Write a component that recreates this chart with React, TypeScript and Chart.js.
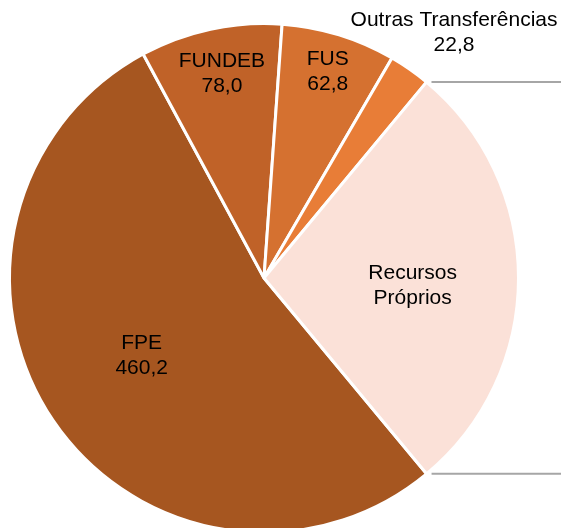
import React, { useEffect, useRef } from "react";
import { Chart, registerables } from "chart.js";

Chart.register(...registerables);

const categories = ["FPE", "FUNDEB", "FUS", "Outras Transferências", "Recursos Próprios"];
const values = [460.2, 78.0, 62.8, 22.8, 242.0];
const labelLines = [["FPE"], ["FUNDEB"], ["FUS"], ["Outras Transferências"], ["Recursos", "Próprios"]];
const showValue = [true, true, true, true, false];
const colors = ["#A65620", "#C06228", "#D57130", "#E87D37", "#FBE1D8"];

const labelPlacement = [
  { r: 0.57, da: 1.5 },
  { r: 0.82, da: 0.5 },
  { r: 0.85, da: 0 },
  { r: 1.22, da: 2.8 },
  { r: 0.585, da: 3 },
];

const fmt = (v: number) => v.toFixed(1).replace(".", ",");

const labelsPlugin = {
  id: "customLabels",
  afterDatasetsDraw(chart: any) {
    const ctx = chart.ctx;
    const meta = chart.getDatasetMeta(0);
    ctx.save();
    const rp = meta.data[4];
    if (rp) {
      const p = rp.getProps(["x", "y", "startAngle", "endAngle", "outerRadius"], true);
      ctx.strokeStyle = "#A6A6A6";
      ctx.lineWidth = 2;
      [p.startAngle, p.endAngle].forEach((a: number) => {
        const px = p.x + Math.cos(a) * p.outerRadius;
        const py = p.y + Math.sin(a) * p.outerRadius;
        ctx.beginPath();
        ctx.moveTo(px + 5, py);
        ctx.lineTo(chart.width, py);
        ctx.stroke();
      });
    }
    ctx.fillStyle = "#000";
    ctx.font = "21px 'Liberation Sans', Arial, sans-serif";
    ctx.textAlign = "center";
    ctx.textBaseline = "middle";
    meta.data.forEach((arc: any, i: number) => {
      const p = arc.getProps(["x", "y", "startAngle", "endAngle", "outerRadius"], true);
      const mid = (p.startAngle + p.endAngle) / 2 + (labelPlacement[i].da * Math.PI) / 180;
      const cx = p.x + Math.cos(mid) * p.outerRadius * labelPlacement[i].r;
      const cy = p.y + Math.sin(mid) * p.outerRadius * labelPlacement[i].r;
      const lines = [...labelLines[i]];
      if (showValue[i]) lines.push(fmt(values[i]));
      const lh = 25;
      const top = cy - ((lines.length - 1) * lh) / 2;
      lines.forEach((t, k) => ctx.fillText(t, cx, top + k * lh));
    });
    ctx.restore();
  },
};

export default function App() {
  const ref = useRef<HTMLCanvasElement | null>(null);
  useEffect(() => {
    if (!ref.current) return;
    const chart = new Chart(ref.current, {
      type: "pie",
      data: {
        labels: categories,
        datasets: [
          {
            data: values,
            backgroundColor: colors,
            borderColor: "#FFFFFF",
            borderWidth: 3,
          },
        ],
      },
      options: {
        responsive: false,
        maintainAspectRatio: false,
        devicePixelRatio: 1,
        animation: false,
        rotation: 140.3,
        layout: { padding: { left: 8, top: 22, right: 41, bottom: 26 } },
        plugins: {
          legend: { display: false },
          tooltip: { enabled: false },
        },
      },
      plugins: [labelsPlugin],
    });
    return () => chart.destroy();
  }, []);
  return (
    <div
      style={{
        position: "fixed",
        left: 0,
        top: 0,
        width: 561,
        height: 528,
        overflow: "hidden",
        background: "#fff",
      }}
    >
      <canvas ref={ref} width={561} height={560} style={{ display: "block" }} />
    </div>
  );
}
